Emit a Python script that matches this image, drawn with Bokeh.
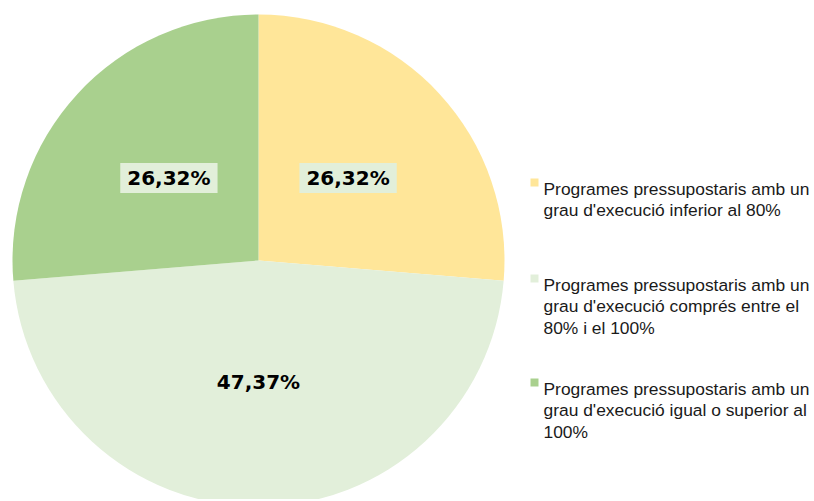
import math
from bokeh.plotting import figure
from bokeh.models import Range1d, ColumnDataSource
from bokeh.core.properties import value
from bokeh.embed import file_html
from bokeh.resources import INLINE

# ---- data ----
categories = [
    "Programes pressupostaris amb un grau d'execució inferior al 80%",
    "Programes pressupostaris amb un grau d'execució comprés entre el 80% i el 100%",
    "Programes pressupostaris amb un grau d'execució igual o superior al 100%",
]
legend_lines = [
    ["Programes pressupostaris amb un", "grau d'execució inferior al 80%"],
    ["Programes pressupostaris amb un", "grau d'execució comprés entre el", "80% i el 100%"],
    ["Programes pressupostaris amb un", "grau d'execució igual o superior al", "100%"],
]
shares = [26.32, 47.37, 26.32]
share_labels = ["26,32%", "47,37%", "26,32%"]
colors = ["#FFE699", "#E2EFDA", "#A9D08E"]

# ---- layout (screen pixel frame) ----
W, H = 812, 499
def sy(v):
    return 501 - v

cx, cy, R = 258, sy(260), 246
legend_x_sq, legend_x_txt = 534, 543
legend_first_baselines = [188, 284, 388]
line_step = 21.5

p = figure(width=W, height=H, output_backend="svg", toolbar_location=None,
           x_range=Range1d(0, W), y_range=Range1d(sy(H), sy(0)),
           min_border=0, outline_line_color=None)
p.xaxis.visible = False
p.yaxis.visible = False
p.xgrid.visible = False
p.ygrid.visible = False
p.background_fill_color = "white"
p.border_fill_color = "white"

total = sum(shares)
starts, ends, lx, ly = [], [], [], []
cum = 0.0
for s in shares:
    a_end = math.pi / 2 - 2 * math.pi * cum / total
    cum += s
    a_start = math.pi / 2 - 2 * math.pi * cum / total
    starts.append(a_start)
    ends.append(a_end)
    mid = (a_start + a_end) / 2
    lx.append(cx + 0.495 * R * math.cos(mid))
    ly.append(cy + 0.495 * R * math.sin(mid))

src = ColumnDataSource(dict(start=starts, end=ends, color=colors,
                            lx=lx, ly=ly, lab=share_labels))
p.wedge(x=cx, y=cy, radius=R, start_angle="start", end_angle="end",
        fill_color="color", line_color=None, source=src)
p.text(x="lx", y="ly", text="lab", source=src, text_align="center",
       text_baseline="middle", text_font=value("DejaVu Sans"),
       text_font_style="bold", text_font_size="20px", text_color="#000000",
       background_fill_color="#E2EFDA", padding=(7, 3))

# legend
tx, ty, tt, sqx, sqy = [], [], [], [], []
for lines, b0, c in zip(legend_lines, legend_first_baselines, colors):
    for k, line in enumerate(lines):
        tx.append(legend_x_txt)
        ty.append(sy(b0 + k * line_step))
        tt.append(line)
    sqx.append(legend_x_sq)
    sqy.append(sy(b0 - 6))
p.scatter(x=sqx, y=sqy, marker="square", size=8, fill_color=colors,
          line_color=None)
p.text(x=tx, y=ty, text=tt, text_align="left", text_baseline="alphabetic",
       text_font=value("Liberation Sans"), text_font_size="17.4px",
       text_color="#1a1a1a")

open("out.html", "w").write(file_html(p, INLINE))
